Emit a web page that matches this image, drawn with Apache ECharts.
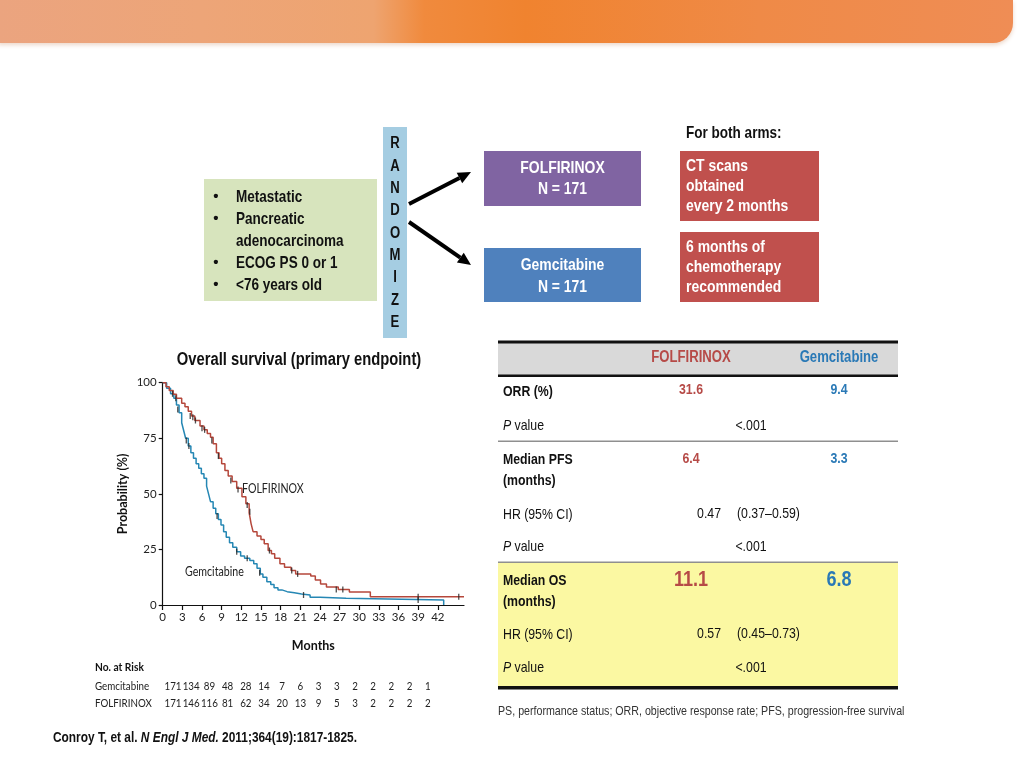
<!DOCTYPE html>
<html><head><meta charset="utf-8">
<script src="https://cdn.jsdelivr.net/npm/echarts@6/dist/echarts.min.js"></script>
<style>html,body{margin:0;padding:0;background:#fff}#c{width:1024px;height:768px}</style>
</head><body><div id="c"></div>
<script>
// ---------------- data ----------------
const monthTicks = [0,3,6,9,12,15,18,21,24,27,30,33,36,39,42];
const probTicks = [0,25,50,75,100];

const folfT = [0,0.5,1.0,1.6,2.1,2.9,3.4,3.9,4.4,4.9,5.7,6.3,6.8,7.3,7.7,8.2,8.6,9.0,9.5,10.0,10.6,11.3,12.1,12.7,13.2,13.5,13.8,14.4,15.0,15.5,16.1,16.6,17.1,17.9,18.6,19.6,20.3,22.6,23.3,24.1,25.0,26.8,28.5,31.7,46];
const folfS = [100,98.2,96.5,94.8,93,90.8,89.2,87.2,85.0,83.0,80.5,78.8,77.2,75.5,72.5,68.5,66.0,63.5,60.5,58.0,55.5,52.5,48.7,45.5,41.5,36.5,33.0,31.0,29.5,27.5,24.5,23.0,21.0,18.5,17.0,15.5,14.0,13.0,11.2,9.5,8.1,7.0,5.8,3.7,3.7];

const gemT = [0,0.6,1.2,1.7,2.1,2.5,2.9,3.2,3.5,3.9,4.3,4.7,5.1,5.5,5.9,6.3,6.7,7.0,7.3,7.7,8.1,8.5,8.9,9.3,9.7,10.2,10.7,11.3,11.9,12.5,13.3,13.9,14.4,14.9,15.3,15.9,16.5,17.0,17.6,18.2,19.0,20.1,21.2,22.5,24.0,28.0,42.9];
const gemS = [100,97.5,95,93,90,86.5,82,78.5,75,71.5,68.5,66,63.5,61.5,59,57,53.5,50,46.5,43.5,41,38.5,36,33,30.5,28,26,24,22,21,20,18.5,16.5,14,12.5,10.5,9.2,7.8,6.8,6.0,5.5,5.0,4.5,3.5,3.0,2.2,0];

const folfCensT = [2.0,4.2,4.6,5.0,6.0,6.4,7.5,8.5,10.4,11.5,12.9,13.3,16.3,19.7,20.6,26.5,27.5,39.0,45.2];
const folfCensS = [93,85,84.5,83,79.5,78.8,74,67,56,52,45,42,24.5,15.5,14,7,7,3.7,3.7];
const gemCensT = [1.5,2.3,3.6,4.0,8.3,11.3,12.9,14.8,21.5,39.0];
const gemCensS = [95,88,74,71.5,40,24,21,14.5,4.5,2.2];

const riskGem = [171,134,89,48,28,14,7,6,3,3,2,2,2,2,1];
const riskFolf = [171,146,116,81,62,34,20,13,9,5,3,2,2,2,2];

const eligibility = ['Metastatic','Pancreatic','adenocarcinoma','ECOG PS 0 or 1','<76 years old'];
const eligBullet = [true,true,false,true,true];
const randomizeLetters = ['R','A','N','D','O','M','I','Z','E'];

const armNames = ['FOLFIRINOX','Gemcitabine'];
const armN = ['N = 171','N = 171'];
const bothArms = ['CT scans\nobtained\nevery 2 months','6 months of\nchemotherapy\nrecommended'];

const orrVals = ['31.6','9.4'];
const pfsVals = ['6.4','3.3'];
const osVals = ['11.1','6.8'];
const pfsHR = ['0.47','(0.37–0.59)'];
const osHR = ['0.57','(0.45–0.73)'];
const pVal = '<.001';

// ---------------- styles ----------------
const NAR = '"Liberation Sans",Arial,sans-serif';   // drawn condensed via scaleX
const NS = 0.82;
const HUM = 'Lato,"Open Sans",sans-serif';
const RED = '#b5473b', BLUE = '#2587b4';
const TRED = '#b64a47', TBLUE = '#2a79b6';

function txt(x,y,text,font,fill,align,extra,sx){
  return {type:'text',x:x,y:y,scaleX:(sx==null?NS:sx),silent:true,
    style:Object.assign({text:text,font:font,fill:fill||'#111',align:align||'left',verticalAlign:'middle'},extra||{})};
}
function rect(x,y,w,h,fill,extra){
  return Object.assign({type:'rect',silent:true,shape:{x:x,y:y,width:w,height:h},style:{fill:fill}},extra||{});
}

const g = [];
// banner
g.push({type:'rect',silent:true,shape:{x:-2,y:0,width:1015,height:43,r:[0,0,20,0]},
  style:{fill:new echarts.graphic.LinearGradient(0,0,1,0,[
    {offset:0,color:'#eba47f'},{offset:0.2,color:'#eda578'},{offset:0.37,color:'#eea470'},
    {offset:0.42,color:'#f08a3d'},{offset:0.52,color:'#f0832f'},{offset:0.75,color:'#ef8a47'},{offset:1,color:'#ef8d55'}]),
    shadowBlur:4,shadowColor:'rgba(200,140,100,0.35)',shadowOffsetY:2}});

// eligibility box
g.push(rect(204,179,173,122,'#d7e4bd'));
const ey = [197,219,241,263,285];
eligibility.forEach((t,i)=>{
  if(eligBullet[i]) g.push(txt(216,ey[i],'•','bold 15px '+NAR,'#111','center',null,1));
  g.push(txt(236,ey[i],t,'bold 16.5px '+NAR,'#111'));
});
// randomize bar
g.push(rect(383,127,24,211,'#a5cde2'));
randomizeLetters.forEach((l,i)=>g.push(txt(395,144+i*22.3,l,'bold 16px '+NAR,'#111','center')));
// arrows
function arrow(x1,y1,x2,y2){
  const a=Math.atan2(y2-y1,x2-x1), L=13, W=6;
  const bx=x2-L*Math.cos(a), by=y2-L*Math.sin(a);
  g.push({type:'line',silent:true,shape:{x1:x1,y1:y1,x2:bx,y2:by},style:{stroke:'#000',lineWidth:4}});
  g.push({type:'polygon',silent:true,shape:{points:[[x2,y2],[bx+W*Math.sin(a),by-W*Math.cos(a)],[bx-W*Math.sin(a),by+W*Math.cos(a)]]},style:{fill:'#000'}});
}
arrow(409,204,471,172);
arrow(409,222,471,265);
// arm boxes
g.push(rect(484,151,157,55,'#8064a2'));
g.push(txt(562.5,168,armNames[0],'bold 17px '+NAR,'#fff','center'));
g.push(txt(562.5,189,armN[0],'bold 17px '+NAR,'#fff','center'));
g.push(rect(484,248,157,54,'#4f81bd'));
g.push(txt(562.5,265,armNames[1],'bold 17px '+NAR,'#fff','center'));
g.push(txt(562.5,287,armN[1],'bold 17px '+NAR,'#fff','center'));
// for both arms
g.push(txt(686,133,'For both arms:','bold 16.5px '+NAR,'#111'));
g.push(rect(680,151,139,70,'#c0504d'));
g.push(txt(686,186,bothArms[0],'bold 17px '+NAR,'#fff','left',{lineHeight:20}));
g.push(rect(680,232,139,70,'#c0504d'));
g.push(txt(686,267,bothArms[1],'bold 17px '+NAR,'#fff','left',{lineHeight:20}));

// chart title
g.push(txt(299,360,'Overall survival (primary endpoint)','bold 18px '+NAR,'#111','center'));

// table
const TL=498, TW=400, LX=503, C1=691, C2=839, CP=751;
g.push(rect(TL,563,TW,124,'#fbf8a2'));
g.push(rect(TL,343,TW,32,'#d9d9d9'));
g.push(rect(TL,340.5,TW,3,'#111'));
g.push(rect(TL,374.5,TW,2.5,'#111'));
g.push(rect(TL,440.5,TW,1.5,'#8f8f8f'));
g.push(rect(TL,561.5,TW,1.5,'#8f8f8f'));
g.push(rect(TL,686,TW,3.5,'#111'));
const LB='bold 15px '+NAR, LR='15px '+NAR;
g.push(txt(C1,358,armNames[0],'bold 16px '+NAR,TRED,'center'));
g.push(txt(C2,358,armNames[1],'bold 16px '+NAR,TBLUE,'center'));
function pRow(y){
  g.push(txt(LX,y,'{i|P} value',LR,'#111','left',{rich:{i:{font:'italic 15px '+NAR,fill:'#111'}}}));
  g.push(txt(CP,y,pVal,LR,'#111','center'));
}
g.push(txt(LX,392,'ORR (%)',LB));
g.push(txt(C1,390,orrVals[0],'bold 15px '+NAR,TRED,'center'));
g.push(txt(C2,390,orrVals[1],'bold 15px '+NAR,TBLUE,'center'));
pRow(426);
g.push(txt(LX,460,'Median PFS',LB));
g.push(txt(LX,481,'(months)',LB));
g.push(txt(C1,459,pfsVals[0],'bold 15px '+NAR,TRED,'center'));
g.push(txt(C2,459,pfsVals[1],'bold 15px '+NAR,TBLUE,'center'));
g.push(txt(LX,515,'HR (95% CI)',LR));
g.push(txt(721,514,pfsHR[0],LR,'#111','right'));
g.push(txt(737,514,pfsHR[1],LR,'#111','left'));
pRow(547);
g.push(txt(LX,581,'Median OS',LB));
g.push(txt(LX,602,'(months)',LB));
g.push(txt(C1,580,osVals[0],'bold 22px '+NAR,TRED,'center'));
g.push(txt(C2,580,osVals[1],'bold 22px '+NAR,TBLUE,'center'));
g.push(txt(LX,635,'HR (95% CI)',LR));
g.push(txt(721,634,osHR[0],LR,'#111','right'));
g.push(txt(737,634,osHR[1],LR,'#111','left'));
pRow(668);
g.push(txt(TL,711,'PS, performance status; ORR, objective response rate; PFS, progression-free survival','13px '+NAR,'#333'));

// number at risk
const HS = 0.85;
g.push(txt(95,667,'No. at Risk','bold 12px '+HUM,'#111','left',null,HS));
g.push(txt(95,686,armNames[1],'11.5px '+HUM,'#222','left',null,HS));
g.push(txt(95,703,armNames[0],'11.5px '+HUM,'#222','left',null,HS));
riskGem.forEach((v,i)=>g.push(txt(173+i*18.2,686,String(v),'11.5px '+HUM,'#222','center',null,HS)));
riskFolf.forEach((v,i)=>g.push(txt(173+i*18.2,703,String(v),'11.5px '+HUM,'#222','center',null,HS)));

// citation
g.push(txt(53,738,'Conroy T, et al. {i|N Engl J Med.} 2011;364(19):1817-1825.','bold 14.5px '+NAR,'#111','left',
  {rich:{i:{font:'italic bold 14.5px '+NAR,fill:'#111'}}}));

const zip=(a,b)=>a.map((v,i)=>[v,b[i]]);

const chart = echarts.init(document.getElementById('c'),null,{renderer:'canvas'});
chart.setOption({
  animation:false,
  backgroundColor:'#fff',
  grid:{left:162.7,top:382.7,width:301.3,height:222.3,containLabel:false},
  xAxis:{type:'value',min:0,max:46,
    name:'Months',nameLocation:'middle',nameGap:34,
    nameTextStyle:{fontFamily:HUM,fontWeight:'bold',fontSize:12.5,color:'#111'},
    axisLine:{show:true,onZero:false,lineStyle:{color:'#111',width:1.2}},
    axisTick:{show:true,length:5,customValues:monthTicks,lineStyle:{color:'#111',width:1.2}},
    axisLabel:{customValues:monthTicks,fontFamily:HUM,fontSize:11.5,color:'#222',margin:6},
    splitLine:{show:false}},
  yAxis:{type:'value',min:0,max:100,interval:25,
    name:'Probability (%)',nameLocation:'middle',nameGap:33,
    nameTextStyle:{fontFamily:HUM,fontWeight:'bold',fontSize:12.5,color:'#111'},
    axisLine:{show:true,lineStyle:{color:'#111',width:1.2}},
    axisTick:{show:true,length:4,lineStyle:{color:'#111',width:1.2}},
    axisLabel:{fontFamily:HUM,fontSize:11.5,color:'#222',margin:6},
    splitLine:{show:false}},
  series:[
    {type:'line',name:'FOLFIRINOX',step:'end',showSymbol:false,symbol:'none',data:zip(folfT,folfS),
     lineStyle:{color:RED,width:1.5},itemStyle:{color:RED},z:3},
    {type:'line',name:'Gemcitabine',step:'end',showSymbol:false,symbol:'none',data:zip(gemT,gemS),
     lineStyle:{color:BLUE,width:1.5},itemStyle:{color:BLUE},z:2},
    {type:'scatter',data:zip(folfCensT,folfCensS),symbol:'rect',symbolSize:[1.3,6],itemStyle:{color:'#222'},silent:true,z:4},
    {type:'scatter',data:zip(gemCensT,gemCensS),symbol:'rect',symbolSize:[1.3,6],itemStyle:{color:'#222'},silent:true,z:4}
  ],
  graphic:g
});
// curve labels placed through the chart's own scales
const pF = chart.convertToPixel({gridIndex:0},[12.1,52]);
const pG = chart.convertToPixel({gridIndex:0},[3.4,15]);
g.push(txt(pF[0],pF[1],armNames[0],'12.5px '+HUM,'#222','left',null,0.85));
g.push(txt(pG[0],pG[1],armNames[1],'12.5px '+HUM,'#222','left',null,0.85));
chart.setOption({graphic:g});
</script></body></html>
